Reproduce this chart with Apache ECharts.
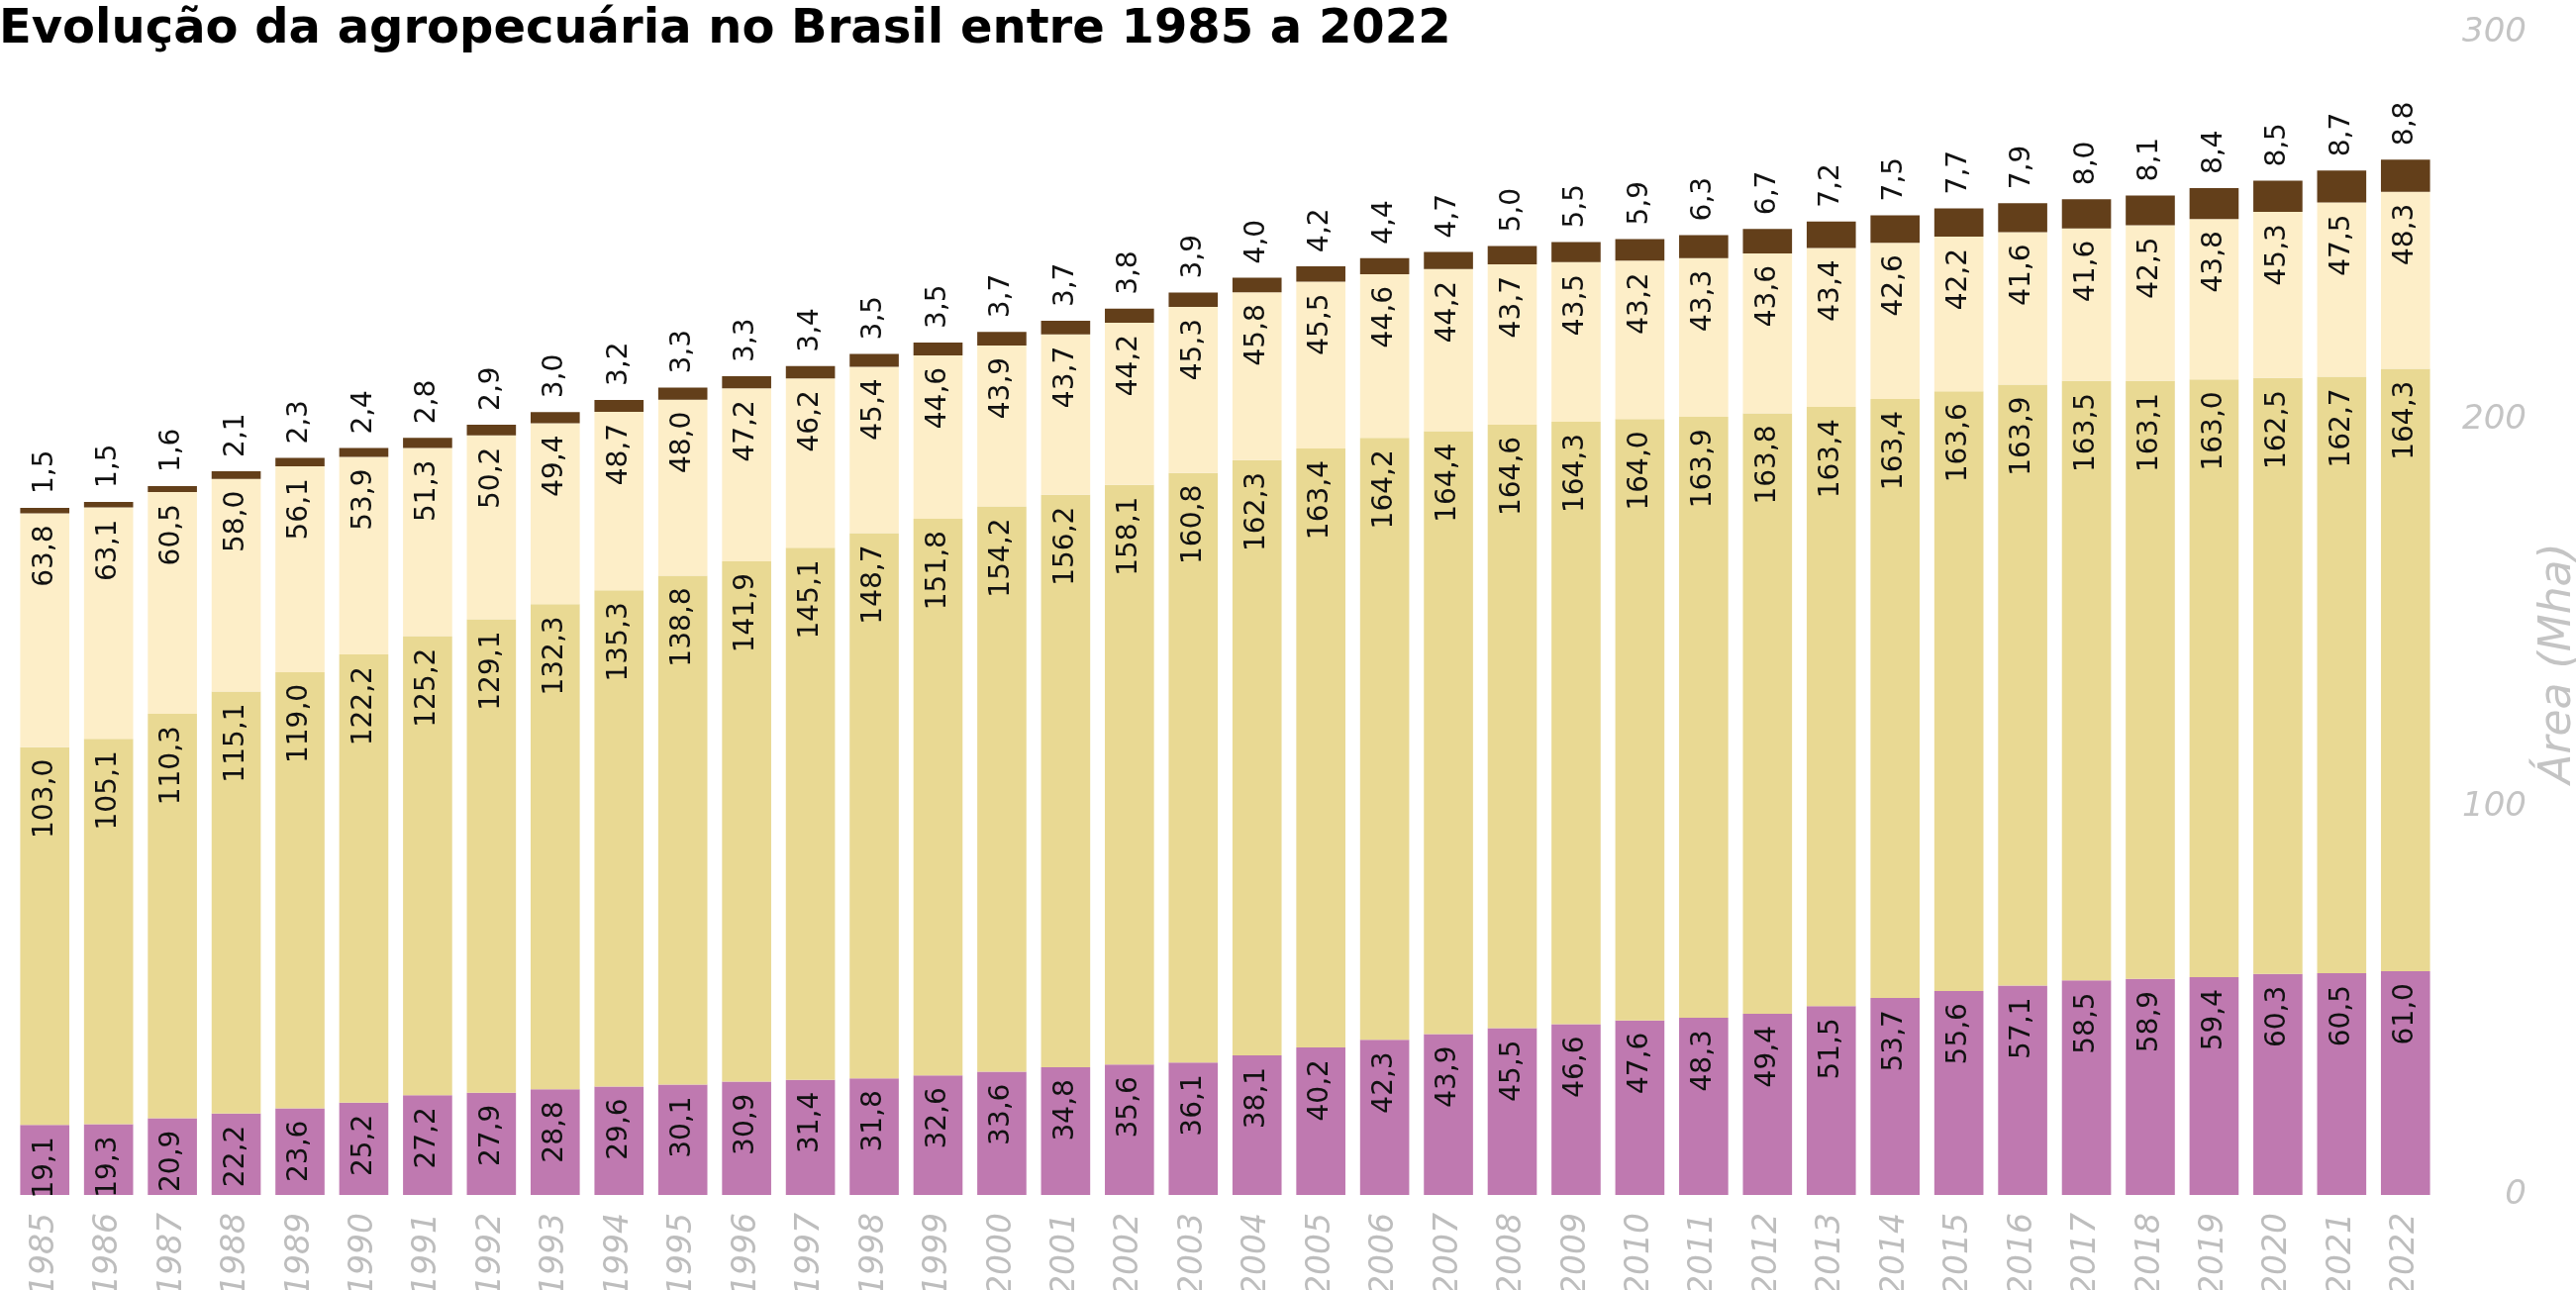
<!DOCTYPE html>
<html>
<head>
<meta charset="utf-8">
<script src="https://cdn.jsdelivr.net/npm/echarts@6/dist/echarts.min.js"></script>
<style>
  html, body { margin: 0; padding: 0; background: #fff; }
  #chart { width: 2602px; height: 1303px; }
</style>
</head>
<body>
<div id="chart"></div>
<script>
const years = ['1985','1986','1987','1988','1989','1990','1991','1992','1993','1994','1995','1996','1997','1998','1999','2000','2001','2002','2003','2004','2005','2006','2007','2008','2009','2010','2011','2012','2013','2014','2015','2016','2017','2018','2019','2020','2021','2022']

// purple, bottom
const roxo = [19.1,19.3,20.9,22.2,23.6,25.2,27.2,27.9,28.8,29.6,30.1,30.9,31.4,31.8,32.6,33.6,34.8,35.6,36.1,38.1,40.2,42.3,43.9,45.5,46.6,47.6,48.3,49.4,51.5,53.7,55.6,57.1,58.5,58.9,59.4,60.3,60.5,61.0]
// tan
const bege = [103.0,105.1,110.3,115.1,119.0,122.2,125.2,129.1,132.3,135.3,138.8,141.9,145.1,148.7,151.8,154.2,156.2,158.1,160.8,162.3,163.4,164.2,164.4,164.6,164.3,164.0,163.9,163.8,163.4,163.4,163.6,163.9,163.5,163.1,163.0,162.5,162.7,164.3]
// light cream
const creme = [63.8,63.1,60.5,58.0,56.1,53.9,51.3,50.2,49.4,48.7,48.0,47.2,46.2,45.4,44.6,43.9,43.7,44.2,45.3,45.8,45.5,44.6,44.2,43.7,43.5,43.2,43.3,43.6,43.4,42.6,42.2,41.6,41.6,42.5,43.8,45.3,47.5,48.3]
// dark brown, top
const marrom = [1.5,1.5,1.6,2.1,2.3,2.4,2.8,2.9,3.0,3.2,3.3,3.3,3.4,3.5,3.5,3.7,3.7,3.8,3.9,4.0,4.2,4.4,4.7,5.0,5.5,5.9,6.3,6.7,7.2,7.5,7.7,7.9,8.0,8.1,8.4,8.5,8.7,8.8]

const yTicks = [0, 100, 200, 300]

const fmt = p => p.value.toFixed(1).replace('.', ',')
const labelFont = '"DejaVu Sans", sans-serif'

function insideLabel() {
  return {
    show: true,
    position: 'insideTop',
    rotate: 90,
    align: 'right',
    verticalAlign: 'middle',
    distance: 12,
    color: '#111',
    fontSize: 28,
    fontWeight: 'normal',
    fontFamily: labelFont,
    formatter: fmt
  }
}

const chart = echarts.init(document.getElementById('chart'))

const option = {
  animation: false,
  title: {
    text: 'Evolução da agropecuária no Brasil entre 1985 a 2022',
    left: -6,
    top: 2,
    textStyle: {
      fontFamily: '"DejaVu Sans", sans-serif',
      fontWeight: 'bold',
      fontSize: 48,
      color: '#000'
    }
  },
  grid: {
    left: 13,
    right: 140,
    top: 33,
    bottom: 96,
    outerBoundsMode: 'none',
    containLabel: false
  },
  xAxis: {
    type: 'category',
    data: years,
    axisLine: { show: false },
    axisTick: { show: false },
    axisLabel: {
      rotate: 90,
      margin: 18,
      color: '#bdbdbd',
      fontStyle: 'italic',
      fontWeight: 200,
      fontSize: 33,
      fontFamily: labelFont
    }
  },
  yAxis: [
    {
      // scale of the bars
      type: 'value',
      position: 'right',
      min: 0,
      max: 317,
      show: false
    },
    {
      // tick labels
      type: 'value',
      position: 'right',
      min: yTicks[0],
      max: yTicks[yTicks.length - 1],
      interval: 100,
      splitLine: { show: false },
      axisLine: { show: false },
      axisTick: { show: false },
      axisLabel: {
        align: 'right',
        margin: 90,
        color: '#c4c4c4',
        fontStyle: 'italic',
        fontWeight: 200,
        fontSize: 34,
        fontFamily: labelFont
      },
      name: 'Área (Mha)',
      nameLocation: 'middle',
      nameRotate: 90,
      nameGap: 94,
      nameTextStyle: {
        color: '#c4c4c4',
        fontStyle: 'italic',
        fontWeight: 200,
        fontSize: 44,
        fontFamily: labelFont,
        padding: [0, 100, 0, 0]
      }
    }
  ],
  series: [
    {
      name: 'roxo',
      type: 'bar',
      stack: 'total',
      yAxisIndex: 0,
      barCategoryGap: '23%',
      data: roxo,
      itemStyle: { color: '#bf79b0' },
      label: insideLabel()
    },
    {
      name: 'bege',
      type: 'bar',
      stack: 'total',
      yAxisIndex: 0,
      data: bege,
      itemStyle: { color: '#e9d993' },
      label: insideLabel()
    },
    {
      name: 'creme',
      type: 'bar',
      stack: 'total',
      yAxisIndex: 0,
      data: creme,
      itemStyle: { color: '#fdeec8' },
      label: insideLabel()
    },
    {
      name: 'marrom',
      type: 'bar',
      stack: 'total',
      yAxisIndex: 0,
      data: marrom,
      itemStyle: { color: '#633f1a' },
      label: {
        show: true,
        position: 'top',
        rotate: 90,
        align: 'left',
        verticalAlign: 'middle',
        distance: 14,
        color: '#111',
        fontSize: 28,
        fontWeight: 'normal',
        fontFamily: labelFont,
        formatter: fmt
      }
    }
  ]
}

chart.setOption(option)
window.addEventListener('resize', chart.resize)
</script>
</body>
</html>
